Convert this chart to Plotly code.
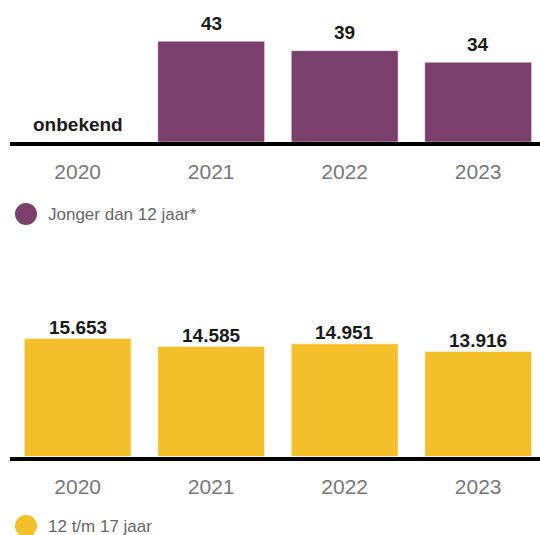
import plotly.graph_objects as go

years = ["2020", "2021", "2022", "2023"]
young_values = [0, 43, 39, 34]
young_labels = ["onbekend", "43", "39", "34"]
teen_values = [15653, 14585, 14951, 13916]
teen_labels = ["15.653", "14.585", "14.951", "13.916"]
series_names = ["Jonger dan 12 jaar*", "12 t/m 17 jaar"]

PURPLE = "#7b3f6b"
YELLOW = "#f3bf2b"
W, H = 540, 535

fig = go.Figure()
fig.add_trace(go.Bar(x=years, y=young_values, marker=dict(color=PURPLE, line=dict(color="rgba(255,255,255,0.45)", width=1)),
                     xaxis="x", yaxis="y", showlegend=False, hoverinfo="skip"))
fig.add_trace(go.Bar(x=years, y=teen_values, marker=dict(color=YELLOW, line=dict(color="rgba(255,255,255,0.45)", width=1)),
                     xaxis="x2", yaxis="y2", showlegend=False, hoverinfo="skip"))

LABEL_FONT = dict(family="Liberation Sans, Arial", size=19, color="#1a1a1a", weight="bold")
annotations = []
for i, (v, t) in enumerate(zip(young_values, young_labels)):
    annotations.append(dict(x=i, y=v, xref="x", yref="y", text=t, showarrow=False, yanchor="middle", yshift=18,
                            font=LABEL_FONT))
for i, (v, t) in enumerate(zip(teen_values, teen_labels)):
    annotations.append(dict(x=i, y=v, xref="x2", yref="y2", text=t, showarrow=False, yanchor="middle", yshift=11,
                            font=LABEL_FONT))

legend_y = [(H - 214) / H, (H - 526) / H]
colors = [PURPLE, YELLOW]
shapes = []
for name, ly, c in zip(series_names, legend_y, colors):
    cx, r = 26, 11
    shapes.append(dict(type="circle", xref="paper", yref="paper", x0=(cx - r) / W, x1=(cx + r) / W,
                       y0=ly - r / H, y1=ly + r / H, fillcolor=c, line=dict(width=0)))
    annotations.append(dict(x=46 / W, y=ly, xref="paper", yref="paper", text=name, showarrow=False,
                            xanchor="left", yanchor="middle",
                            font=dict(family="Liberation Sans, Arial", size=17, color="#666666")))

xcommon = dict(type="category", range=[-0.507, 3.463], showline=True, linecolor="black", linewidth=4,
               showgrid=False, zeroline=False, ticks="", domain=[10 / W, 1], ticklabelstandoff=8,
               tickfont=dict(family="Liberation Sans, Arial", size=21, color="#777777"), fixedrange=True)
ycommon = dict(visible=False, showgrid=False, zeroline=False, fixedrange=True)

fig.update_layout(
    width=W, height=H, margin=dict(l=0, r=0, t=0, b=0),
    paper_bgcolor="white", plot_bgcolor="white", bargap=0.2,
    xaxis=dict(**xcommon, anchor="y"),
    yaxis=dict(**ycommon, range=[0, 50], domain=[(H - 142) / H, (H - 24.9) / H], anchor="x"),
    xaxis2=dict(**xcommon, anchor="y2"),
    yaxis2=dict(**ycommon, range=[0, 20000], domain=[(H - 456.5) / H, (H - 305.7) / H], anchor="x2"),
    annotations=annotations, shapes=shapes,
)

fig.write_html("out.html", config={"displayModeBar": False},
               post_script="document.body.style.margin='0';document.body.style.overflow='hidden';")
